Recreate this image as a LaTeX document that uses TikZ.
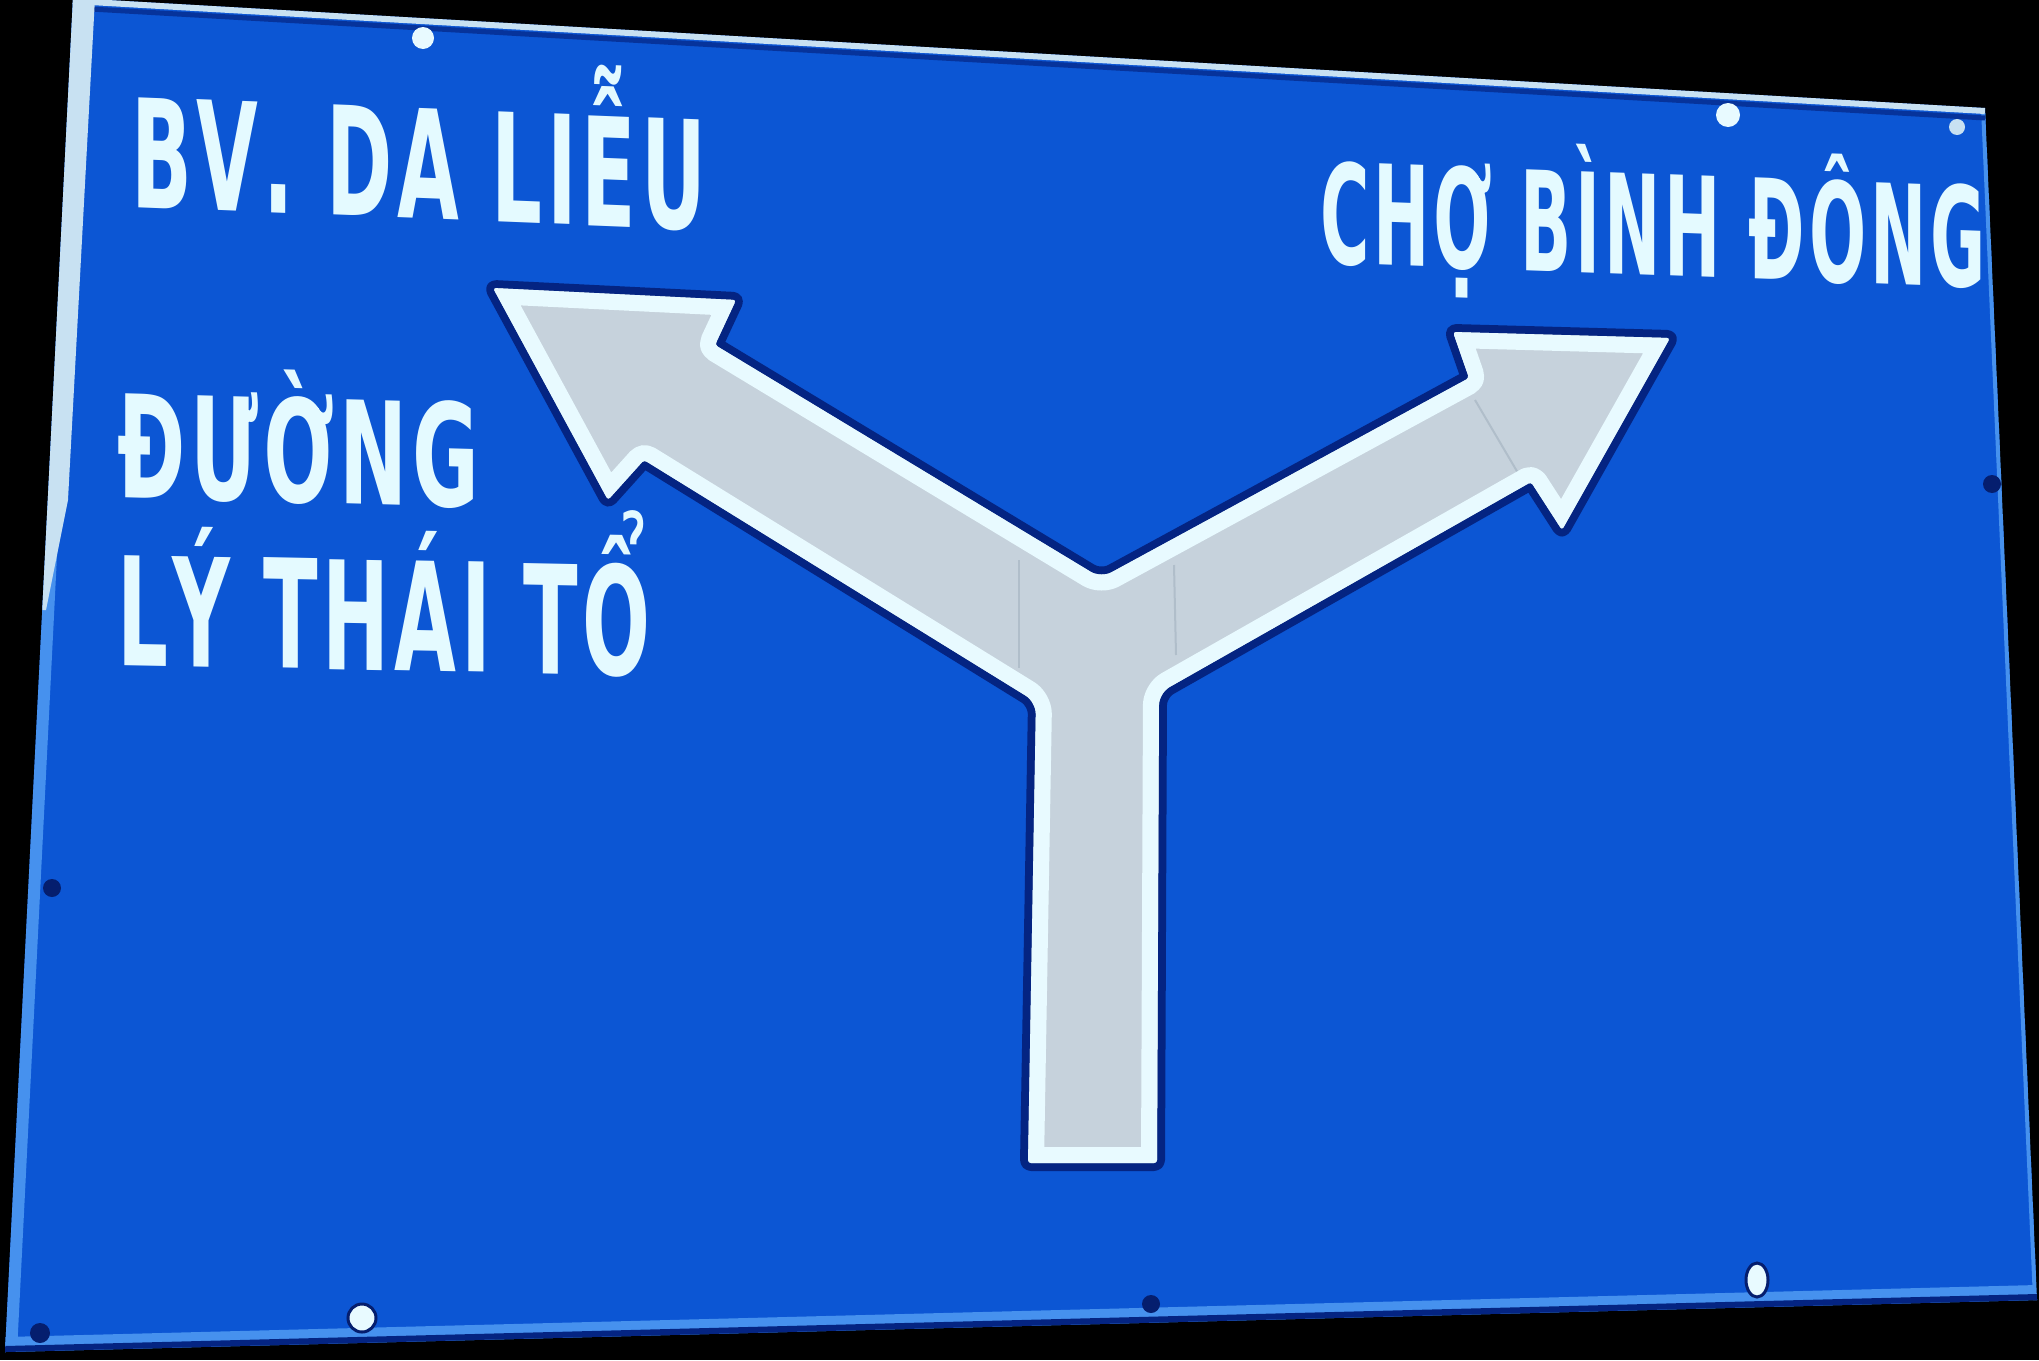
\documentclass[tikz,border=0pt]{standalone}
\usepackage{fontspec}
\usepackage{graphicx}
\usetikzlibrary{calc}
\newfontfamily\sgnfont{DejaVu Sans}[Kerning=Off, LetterSpace=6]
\definecolor{signblue}{RGB}{12,86,212}
\definecolor{rimblue}{RGB}{70,145,238}
\definecolor{rimwhite}{RGB}{200,225,242}
\definecolor{arrowgray}{RGB}{198,210,220}
\definecolor{outlinewhite}{RGB}{232,250,255}
\definecolor{halo}{RGB}{4,36,130}
\definecolor{textwhite}{RGB}{228,250,255}
\definecolor{seamgray}{RGB}{176,190,202}
\definecolor{boltdark}{RGB}{5,30,110}
\newlength\sgw
\newlength\sgh
\newcommand\signline[3]{%
  \sgnfont\bfseries
  \settoheight{\sgh}{\fontsize{100pt}{100pt}\selectfont H}%
  \pgfmathsetmacro\sgs{#1*100/\sgh}%
  \fontsize{\sgs pt}{\sgs pt}\selectfont
  \settowidth{\sgw}{#3}%
  \pgfmathsetmacro\sgr{#2/\sgw}%
  \scalebox{\sgr}[1]{#3}}
\tikzset{
  signtext/.style={inner sep=0pt, outer sep=0pt, text=textwhite, anchor=base west},
  seam/.style={draw=seamgray, line width=2pt},
  boltd/.style={fill=boltdark},
  boltw/.style={fill=outlinewhite, draw=boltdark, line width=3pt}
}
\begin{document}
\begin{tikzpicture}[x=1pt,y=-1pt]
\useasboundingbox (0,0) rectangle (2039,1360);
\fill[black] (0,0) rectangle (2039,1360);
% sign corners
\coordinate (s1) at (73,-2);
\coordinate (s2) at (1985,108);
\coordinate (s3) at (2037,1300);
\coordinate (s4) at (5,1352);
\coordinate (sl) at (46,560);
\begin{scope}
  \clip (s1) -- (s2) -- (s3) -- (s4) -- cycle;
  \fill[signblue] (s1) -- (s2) -- (s3) -- (s4) -- cycle;
  \draw[rimblue, line width=8pt] (s2) -- (s3);
  \draw[rimblue, line width=24pt] (s1) -- (s4);
  \draw[rimblue, line width=30pt] (s4) -- (s3);
  \draw[halo, line width=12pt] (s4) -- (s3);
  \draw[halo!70!signblue, line width=5pt] ($(s1)+(0,10)$) -- ($(s2)+(0,10)$);
  \draw[rimwhite, line width=12pt] (s1) -- (s2);
  \fill[rimwhite] (0,-2) -- (95,-2) -- (68,500) -- (46,610) -- (0,610) -- cycle;
\end{scope}
% bolts and spots
\fill[boltd] (52,888) circle (9);
\fill[boltd] (1151,1304) circle (9);
\fill[boltd] (1992,484) circle (9);
\fill[boltd] (40,1333) circle (10);
\path[boltw] (362,1318) circle (14);
\path[boltw] (1757,1280) ellipse (11 and 17);
\fill[outlinewhite] (423,38) circle (11);
\fill[outlinewhite] (1728,115) circle (12);
\fill[rimwhite] (1957,127) circle (8);
% arrow
\coordinate (a1) at (1028,1163);
\coordinate (a2) at (1036,702);
\coordinate (a3) at (644,460);
\coordinate (a4) at (608,500);
\coordinate (a5) at (493,288);
\coordinate (a6) at (736,300);
\coordinate (a7) at (715,345);
\coordinate (a8) at (1101,578);
\coordinate (a9) at (1469,378);
\coordinate (a10) at (1453,332);
\coordinate (a11) at (1670,338);
\coordinate (a12) at (1562,530);
\coordinate (a13) at (1531,482);
\coordinate (a14) at (1159,693);
\coordinate (a15) at (1157,1163);
\draw[halo, line width=16pt, line join=round] [rounded corners=3pt] (a1) [rounded corners=12pt] -- (a2) [rounded corners=3pt] -- (a3) -- (a4) -- (a5) -- (a6) -- (a7) [rounded corners=12pt] -- (a8) [rounded corners=3pt] -- (a9) -- (a10) -- (a11) -- (a12) -- (a13) [rounded corners=12pt] -- (a14) [rounded corners=3pt] -- (a15) -- cycle;
\begin{scope}
  \clip [rounded corners=3pt] (a1) [rounded corners=12pt] -- (a2) [rounded corners=3pt] -- (a3) -- (a4) -- (a5) -- (a6) -- (a7) [rounded corners=12pt] -- (a8) [rounded corners=3pt] -- (a9) -- (a10) -- (a11) -- (a12) -- (a13) [rounded corners=12pt] -- (a14) [rounded corners=3pt] -- (a15) -- cycle;
  \fill[arrowgray] (0,0) rectangle (2039,1360);
  \draw[seam] (1019,560) -- (1019,668);
  \draw[seam] (1174,565) -- (1176,655);
  \draw[seam] (1475,400) -- (1518,473);
  \draw[outlinewhite, line width=32pt, line join=round] [rounded corners=3pt] (a1) [rounded corners=12pt] -- (a2) [rounded corners=3pt] -- (a3) -- (a4) -- (a5) -- (a6) -- (a7) [rounded corners=12pt] -- (a8) [rounded corners=3pt] -- (a9) -- (a10) -- (a11) -- (a12) -- (a13) [rounded corners=12pt] -- (a14) [rounded corners=3pt] -- (a15) -- cycle;
\end{scope}
% texts
\node[signtext, yslant=-0.040] (t1) at (131,207) {\signline{110}{575}{BV. DA LIỄU}};
\node[signtext, yslant=-0.037] (t2) at (1320,263) {\signline{101}{666}{CHỢ BÌNH ĐÔNG}};
\node[signtext, yslant=-0.028] (t3) at (117,497) {\signline{104}{362}{ĐƯỜNG}};
\node[signtext, yslant=-0.020] (t4) at (117,665) {\signline{110}{534}{LÝ THÁI TỔ}};
\end{tikzpicture}
\end{document}
